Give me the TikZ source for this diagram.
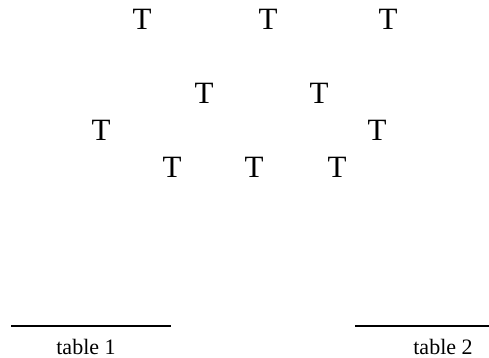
\documentclass[tikz,border=0pt]{standalone}
\usepackage{fontspec}
\setmainfont{Liberation Serif}
\usepackage{tikz}
\usetikzlibrary{positioning}

\tikzset{
    tee/.style={inner sep=0pt, font=\fontsize{31}{31}\selectfont},
    tablelabel/.style={inner sep=0pt, anchor=base, font=\fontsize{22}{22}\selectfont}
}

\begin{document}
\begin{tikzpicture}[x=1pt, y=-1pt]
            \useasboundingbox (0,0) rectangle (489,358);

            % top row
            \node[tee] (t1) at (142,19) {T};
            \node[tee] (t2) at (268,19) {T};
            \node[tee] (t3) at (388,19) {T};

            % inner pair
            \node[tee] (t4) at (204,93) {T};
            \node[tee] (t5) at (319,93) {T};

            % outer pair
            \node[tee] (t6) at (101,130) {T};
            \node[tee] (t7) at (377,130) {T};

            % bottom row
            \node[tee] (t8) at (172,167) {T};
            \node[tee] (t9) at (254,167) {T};
            \node[tee] (t10) at (337,167) {T};

            % the two tables
            \coordinate (L1a) at (11,326);
            \coordinate (L1b) at (171,326);
            \coordinate (L2a) at (355,326);
            \coordinate (L2b) at (489,326);
            \draw[line width=1.4pt] (L1a) -- (L1b);
            \draw[line width=1.4pt] (L2a) -- (L2b);
            \node[tablelabel] (tab1) at (86,354) {table 1};
            \node[tablelabel] (tab2) at (443,354) {table 2};
        \end{tikzpicture}
\end{document}
